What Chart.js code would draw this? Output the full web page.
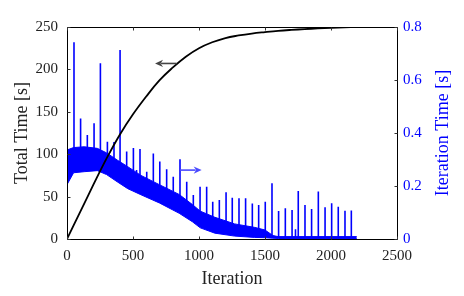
<!DOCTYPE html>
<html><head><meta charset="utf-8">
<script src="https://cdn.jsdelivr.net/npm/chart.js@4/dist/chart.umd.min.js"></script>
<style>html,body{margin:0;padding:0;background:#fff}</style>
</head><body>
<canvas id="c" width="464" height="296"></canvas>
<script>
// ---- data ----
const totalIter = [0,100,200,300,400,500,600,700,800,900,1000,1100,1200,1300,1400,1500,1600,1700,1800,1900,2000,2100,2200];
const totalTime = [0,32,64,95,123,147,168,187,202,215,225,232,237,240,242.3,244,245.5,246.6,247.5,248.3,249,249.5,250];

const bandIter  = [0,50,130,230,300,380,460,560,700,850,950,1010,1120,1270,1420,1500,1560,1600,2195];
const bandUpper = [0.336,0.345,0.348,0.342,0.325,0.298,0.273,0.240,0.205,0.168,0.130,0.105,0.082,0.057,0.044,0.034,0.013,0.009,0.009];
const bandLower = [0.205,0.250,0.254,0.258,0.243,0.216,0.190,0.167,0.136,0.097,0.065,0.042,0.022,0.011,0.006,0.005,0.003,0.002,0.002];

const spikeIter = [53,103,154,205,253,306,356,402,452,503,527,553,604,654,703,755,805,856,907,957,1008,1058,1104,1154,1205,1252,1303,1353,1404,1452,1502,1553,1603,1654,1705,1731,1752,1803,1853,1904,1955,2005,2055,2106,2154];
const spikePeak = [0.742,0.455,0.392,0.437,0.663,0.367,0.366,0.713,0.330,0.343,0.260,0.340,0.254,0.323,0.292,0.263,0.235,0.301,0.216,0.166,0.197,0.197,0.141,0.147,0.176,0.156,0.154,0.154,0.134,0.128,0.141,0.210,0.106,0.116,0.109,0.037,0.181,0.128,0.113,0.179,0.120,0.135,0.122,0.107,0.108];
const spikeBase = [0.30,0.30,0.30,0.30,0.30,0.28,0.27,0.25,0.24,0.22,0.21,0.21,0.20,0.19,0.17,0.16,0.15,0.13,0.12,0.09,0.07,0.06,0.05,0.045,0.04,0.035,0.03,0.025,0.025,0.02,0.02,0.008,0.004,0.004,0.004,0.004,0.004,0.004,0.004,0.004,0.004,0.004,0.004,0.004,0.004];

const xTickValues  = [0,500,1000,1500,2000,2500];
const yTickValues  = [0,50,100,150,200,250];
const y1TickValues = [0,0.2,0.4,0.6,0.8];

const xLabel = 'Iteration';
const yLabel = 'Total Time [s]';
const y1Label = 'Iteration Time [s]';

// ---- build datasets ----
const totalData = totalIter.map((x,i)=>({x, y: totalTime[i]}));
const upperData = bandIter.map((x,i)=>({x, y: bandUpper[i]}));
const lowerData = bandIter.map((x,i)=>({x, y: bandLower[i]}));
const spikeData = [];
spikeIter.forEach((x,i)=>{
  spikeData.push({x, y: spikeBase[i]});
  spikeData.push({x, y: spikePeak[i]});
  spikeData.push({x, y: null});
});

const FONT = '"Liberation Serif", "Times New Roman", serif';
const BLUE = '#0000ff';

const framePlugin = {
  id: 'frame',
  afterDatasetsDraw(chart) {
    const {ctx, scales} = chart;
    const x = scales.x, y = scales.y, y1 = scales.y1;
    ctx.save();
    function arrow(x1, y1p, x2, y2p, color) {
      ctx.strokeStyle = color; ctx.fillStyle = color; ctx.lineWidth = 1.6;
      const ang = Math.atan2(y2p - y1p, x2 - x1);
      const L = 8, W = 3.6;
      const bx = x2 - L*Math.cos(ang), by = y2p - L*Math.sin(ang);
      ctx.beginPath(); ctx.moveTo(x1, y1p); ctx.lineTo(bx + 2*Math.cos(ang), by + 2*Math.sin(ang)); ctx.stroke();
      ctx.beginPath();
      ctx.moveTo(x2, y2p);
      ctx.lineTo(bx - W*Math.sin(ang), by + W*Math.cos(ang));
      ctx.lineTo(bx + 2.5*Math.cos(ang), by + 2.5*Math.sin(ang));
      ctx.lineTo(bx + W*Math.sin(ang), by - W*Math.cos(ang));
      ctx.closePath(); ctx.fill();
    }
    arrow(x.getPixelForValue(831), y.getPixelForValue(207), x.getPixelForValue(667), y.getPixelForValue(207), '#444444');
    arrow(x.getPixelForValue(856), y1.getPixelForValue(0.26), x.getPixelForValue(1020), y1.getPixelForValue(0.26), '#4a4aff');
    ctx.restore();
  },
  afterDraw(chart) {
    const {ctx, chartArea: a, scales} = chart;
    ctx.save();
    ctx.strokeStyle = '#000'; ctx.lineWidth = 1;
    const L = Math.round(a.left)+0.5, R = Math.round(a.right)+0.5, T = Math.round(a.top)+0.5, B = Math.round(a.bottom)+0.5;
    ctx.beginPath(); ctx.rect(L, T, R-L, B-T); ctx.stroke();
    ctx.strokeStyle = '#333';
    ctx.beginPath();
    xTickValues.forEach(v=>{
      const p = Math.round(scales.x.getPixelForValue(v))+0.5;
      ctx.moveTo(p, B); ctx.lineTo(p, B-3);
      ctx.moveTo(p, T); ctx.lineTo(p, T+3);
    });
    yTickValues.forEach(v=>{
      const p = Math.round(scales.y.getPixelForValue(v))+0.5;
      ctx.moveTo(L, p); ctx.lineTo(L+3, p);
    });
    y1TickValues.forEach(v=>{
      const p = Math.round(scales.y1.getPixelForValue(v))+0.5;
      ctx.moveTo(R, p); ctx.lineTo(R-3, p);
    });
    ctx.stroke();
    ctx.fillStyle = BLUE;
    ctx.font = '18px ' + FONT;
    ctx.textAlign = 'center'; ctx.textBaseline = 'middle';
    ctx.translate(443, (a.top + a.bottom)/2);
    ctx.rotate(-Math.PI/2);
    ctx.fillText(y1Label, 0, 0);
    ctx.restore();
  }
};

new Chart(document.getElementById('c'), {
  type: 'line',
  data: {
    datasets: [
      { label: 'Total', data: totalData, yAxisID: 'y', borderColor: '#000', borderWidth: 1.8,
        pointRadius: 0, tension: 0.4, fill: false },
      { label: 'Spikes', data: spikeData, yAxisID: 'y1', borderColor: BLUE, borderWidth: 1.6,
        pointRadius: 0, spanGaps: false, fill: false, tension: 0 },
      { label: 'BandUpper', data: upperData, yAxisID: 'y1', borderColor: BLUE, borderWidth: 1,
        pointRadius: 0, fill: false, tension: 0 },
      { label: 'BandLower', data: lowerData, yAxisID: 'y1', borderColor: BLUE, borderWidth: 1,
        pointRadius: 0, fill: '-1', backgroundColor: BLUE, tension: 0 }
    ]
  },
  options: {
    responsive: false,
    animation: false,
    devicePixelRatio: 1,
    layout: { padding: { top: 27, bottom: 0, left: 0, right: 0 } },
    plugins: { legend: { display: false }, tooltip: { enabled: false } },
    scales: {
      x: {
        type: 'linear', min: 0, max: 2500,
        afterBuildTicks: s => { s.ticks = xTickValues.map(v=>({value:v})); },
        afterFit: s => { s.height = 57; },
        grid: { display: false, drawTicks: false }, border: { display: false },
        ticks: { font: { family: FONT, size: 15 }, color: '#222', padding: 8, maxRotation: 0,
                 callback: v => String(v) },
        title: { display: true, text: xLabel, font: { family: FONT, size: 18 }, color: '#222', padding: { top: 4, bottom: 6 } }
      },
      y: {
        type: 'linear', position: 'left', min: 0, max: 250,
        afterBuildTicks: s => { s.ticks = yTickValues.map(v=>({value:v})); },
        afterFit: s => { s.width = 67; },
        grid: { display: false, drawTicks: false }, border: { display: false },
        ticks: { font: { family: FONT, size: 15 }, color: '#222', padding: 9, callback: v => String(v) },
        title: { display: true, text: yLabel, font: { family: FONT, size: 18 }, color: '#222', padding: { top: 11, bottom: 0 } }
      },
      y1: {
        type: 'linear', position: 'right', min: 0, max: 0.8,
        afterBuildTicks: s => { s.ticks = y1TickValues.map(v=>({value:v})); },
        afterFit: s => { s.width = 67; },
        grid: { display: false, drawTicks: false }, border: { display: false },
        ticks: { font: { family: FONT, size: 15 }, color: BLUE, padding: 6,
                 callback: v => (v === 0 ? '0' : v.toFixed(1)) },
        title: { display: false }
      }
    }
  },
  plugins: [framePlugin]
});
</script>
</body></html>
